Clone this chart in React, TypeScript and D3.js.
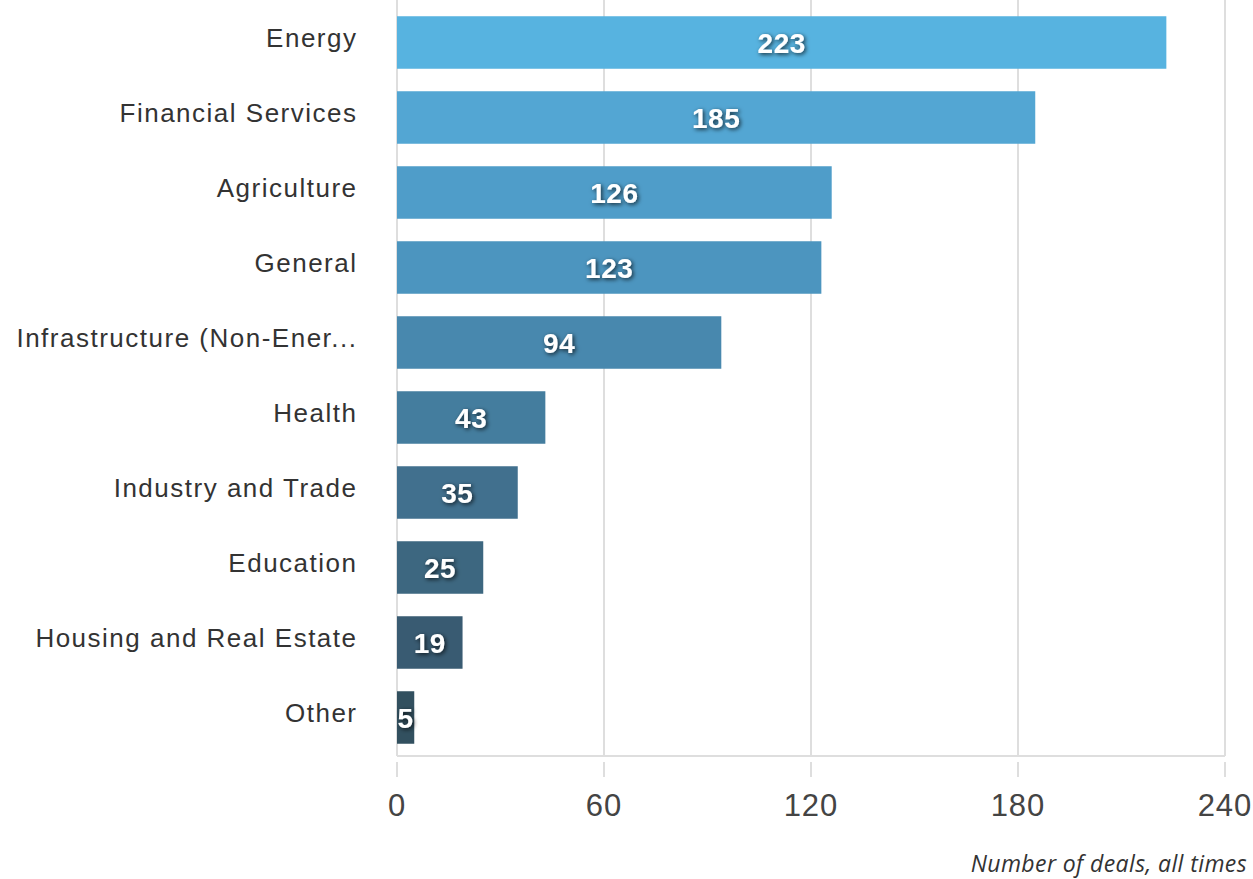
import React from "react";
import * as d3 from "d3";

const categories = [
  "Energy",
  "Financial Services",
  "Agriculture",
  "General",
  "Infrastructure (Non-Ener...",
  "Health",
  "Industry and Trade",
  "Education",
  "Housing and Real Estate",
  "Other",
];
const dealCounts = [223, 185, 126, 123, 94, 43, 35, 25, 19, 5];
const barColors = [
  "#57b3e0",
  "#53a6d3",
  "#4f9dc9",
  "#4c95bf",
  "#4888ae",
  "#447d9e",
  "#41708e",
  "#3d6780",
  "#395b72",
  "#32505f",
];
const xTicks = [0, 60, 120, 180, 240];
const caption = "Number of deals, all times";

const W = 1253;
const H = 879;

export default function App() {
  const x = d3.scaleLinear().domain([0, 240]).range([397, 1225]);
  const y = d3
    .scaleBand<string>()
    .domain(categories)
    .range([5, 755])
    .paddingInner(0.3)
    .paddingOuter(0.15);
  const baseY = 756;
  const font = "'Liberation Sans', Arial, Helvetica, sans-serif";

  return (
    <div style={{ position: "absolute", left: 0, top: 0 }}>
      <svg width={W} height={H} style={{ display: "block", background: "#fff" }}>
        <defs>
          <filter id="lblShadow" x="-30%" y="-30%" width="160%" height="160%">
            <feDropShadow dx="1.5" dy="1.5" stdDeviation="2" floodColor="#000" floodOpacity="0.75" />
          </filter>
        </defs>
        {/* grid lines */}
        {xTicks.map((t) => (
          <g key={"g" + t}>
            <line x1={x(t)} x2={x(t)} y1={0} y2={baseY} stroke="#dedede" strokeWidth={2} />
            <line x1={x(t)} x2={x(t)} y1={762} y2={777} stroke="#dedede" strokeWidth={2} />
          </g>
        ))}
        <line x1={x(0)} x2={x(240)} y1={baseY} y2={baseY} stroke="#dedede" strokeWidth={2} />
        {/* bars */}
        {categories.map((c, i) => (
          <rect
            key={"b" + c}
            x={x(0)}
            y={y(c)}
            width={x(dealCounts[i]) - x(0)}
            height={y.bandwidth()}
            fill={barColors[i]}
          />
        ))}
        {/* category labels */}
        {categories.map((c) => (
          <text
            key={"c" + c}
            x={357.5}
            y={(y(c) as number) + y.bandwidth() / 2 + 4}
            textAnchor="end"
            fontFamily={font}
            fontSize={26}
            letterSpacing={1.5}
            fill="#333"
          >
            {c}
          </text>
        ))}
        {/* value labels */}
        {categories.map((c, i) => (
          <text
            key={"v" + c}
            x={(x(0) + x(dealCounts[i])) / 2}
            y={(y(c) as number) + y.bandwidth() / 2 + 10}
            textAnchor="middle"
            fontFamily={font}
            fontWeight="bold"
            fontSize={28}
            letterSpacing={0.5}
            fill="#fff"
            filter="url(#lblShadow)"
          >
            {dealCounts[i]}
          </text>
        ))}
        {/* x tick labels */}
        {xTicks.map((t) => (
          <text
            key={"t" + t}
            x={x(t)}
            y={816}
            textAnchor="middle"
            fontFamily={font}
            fontSize={31}
            letterSpacing={1}
            fill="#444"
          >
            {t}
          </text>
        ))}
        <text
          x={1247}
          y={872}
          textAnchor="end"
          fontFamily="'Open Sans', sans-serif"
          fontStyle="italic"
          fontSize={23}
          letterSpacing={0.4}
          fill="#333"
        >
          {caption}
        </text>
      </svg>
    </div>
  );
}
